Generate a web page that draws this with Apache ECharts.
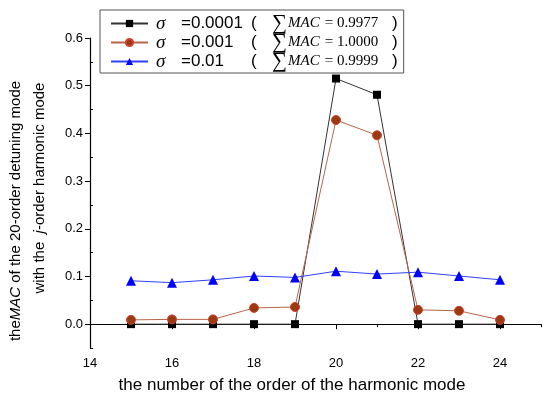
<!DOCTYPE html>
<html><head><meta charset="utf-8">
<script src="https://cdn.jsdelivr.net/npm/echarts@6/dist/echarts.min.js"></script>
<style>html,body{margin:0;padding:0;background:#fff}#c{width:550px;height:395px}</style>
</head><body><div id="c"></div>
<script>
const xValues = [15,16,17,18,19,20,21,22,23,24];
const s1 = [0,0,0,0,0,0.515,0.481,0,0,0];
const s2 = [0.009,0.010,0.010,0.034,0.036,0.428,0.396,0.030,0.028,0.009];
const s3 = [0.091,0.087,0.093,0.101,0.098,0.111,0.105,0.109,0.101,0.093];
const names = ['s1','s2','s3'];
const sigmaLabels = ['=0.0001','=0.001','=0.01'];
const macLabels = ['0.9977','1.0000','0.9999'];
const xMajor = [14,16,18,20,22,24];
const xMinor = [15,17,19,21,23,25];
const yMajor = [0,0.1,0.2,0.3,0.4,0.5,0.6];
const yMinor = [-0.05,0.05,0.15,0.25,0.35,0.45,0.55];

const chart = echarts.init(document.getElementById('c'));
const font = 'Liberation Sans, Arial, sans-serif';
const serif = 'Liberation Serif, Times New Roman, serif';
const pairs = v => xValues.map((x,i)=>[x,v[i]]);
const LH = 16;
const option = {
  animation:false,
  grid:{left:90,right:9,top:38,bottom:47},
  legend:{
    orient:'vertical', left:100, top:10, itemGap:-2, itemWidth:37, itemHeight:9,
    borderColor:'#555', borderWidth:1, padding:[3,6,1,10],
    data:names,
    formatter: n => {
      const i = names.indexOf(n);
      return '{s|σ}{v|' + sigmaLabels[i] + '}{p|(}{sum|∑}{m|MAC}{n| = ' + macLabels[i] + '}{q|)}';
    },
    textStyle:{
      lineHeight:LH,
      rich:{
        s:{fontFamily:serif,fontStyle:'italic',fontSize:19,width:25,padding:[0,0,0,3],color:'#000',lineHeight:LH},
        v:{fontFamily:font,fontSize:17,width:70,color:'#000',lineHeight:LH},
        p:{fontFamily:font,fontSize:17,width:21,color:'#000',lineHeight:LH},
        sum:{fontFamily:serif,fontSize:21,width:16,color:'#000',lineHeight:LH},
        m:{fontFamily:serif,fontStyle:'italic',fontSize:15,width:33,color:'#000',lineHeight:LH},
        n:{fontFamily:serif,fontSize:15,width:71,color:'#000',lineHeight:LH},
        q:{fontFamily:font,fontSize:17,color:'#000',lineHeight:LH}
      }
    }
  },
  xAxis:[{
    type:'value',min:14,max:25,interval:1,
    axisLine:{lineStyle:{color:'#000',width:1.2}},
    axisTick:{customValues:xMajor,length:5,lineStyle:{color:'#000'}},
    axisLabel:{customValues:xMajor,color:'#000',fontFamily:font,fontSize:13,margin:9},
    splitLine:{show:false}
  },{
    type:'value',min:14,max:25,interval:1,position:'bottom',
    axisLine:{show:false},
    axisTick:{customValues:xMinor,length:3,lineStyle:{color:'#000'}},
    axisLabel:{show:false},splitLine:{show:false}
  }],
  yAxis:[{
    type:'value',min:-0.05,max:0.6,interval:0.05,
    axisLine:{show:true,lineStyle:{color:'#000',width:1.2}},
    axisTick:{show:true,customValues:yMajor,length:5,lineStyle:{color:'#000'}},
    axisLabel:{customValues:yMajor,formatter:v=>v.toFixed(1),color:'#000',fontFamily:font,fontSize:13,margin:7},
    splitLine:{show:false}
  },{
    type:'value',min:-0.05,max:0.6,interval:0.05,position:'left',
    axisLine:{show:false},
    axisTick:{show:true,inside:true,customValues:yMinor,length:3,lineStyle:{color:'#000'}},
    axisLabel:{show:false},splitLine:{show:false}
  }],
  series:[
    {name:'s1',type:'line',data:pairs(s1),symbol:'rect',symbolSize:8,
     itemStyle:{color:'#000'},lineStyle:{color:'#333',width:1}},
    {name:'s2',type:'line',data:pairs(s2),symbol:'circle',symbolSize:9,
     itemStyle:{color:'#9a3a10',borderColor:'#d04030',borderWidth:1},lineStyle:{color:'#b8654a',width:1}},
    {name:'s3',type:'line',data:pairs(s3),symbol:'triangle',symbolSize:10,
     itemStyle:{color:'#0000ff'},lineStyle:{color:'#3040ff',width:1}}
  ],
  graphic:[
    {type:'text',x:292,y:385,style:{text:'the number of the order of the harmonic mode',font:'17px '+font,fill:'#000',align:'center',verticalAlign:'middle'}},
    {type:'text',x:16,y:211,rotation:Math.PI/2,style:{
      text:'the{i|MAC} of the 20-order detuning mode',font:'15px '+font,fill:'#000',align:'center',verticalAlign:'middle',
      rich:{i:{fontFamily:font,fontStyle:'italic',fontSize:15,fill:'#000'}}}},
    {type:'text',x:40,y:188,rotation:Math.PI/2,style:{
      text:'with the  {i|j}-order harmonic mode',font:'15px '+font,fill:'#000',align:'center',verticalAlign:'middle',
      rich:{i:{fontFamily:font,fontStyle:'italic',fontSize:15,fill:'#000'}}}}
  ]
};
chart.setOption(option);
</script></body></html>
